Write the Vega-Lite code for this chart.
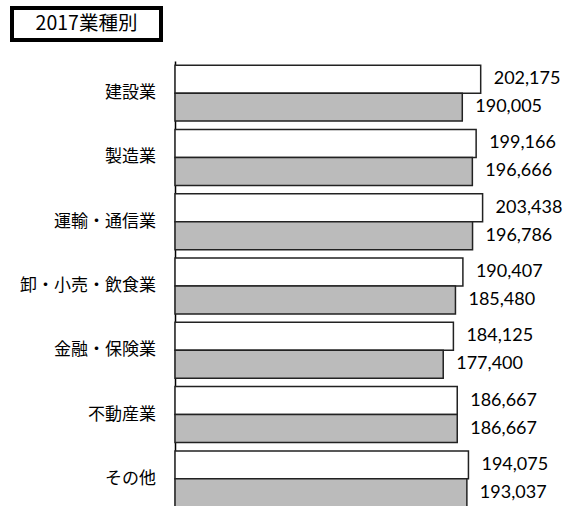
{
  "$schema": "https://vega.github.io/schema/vega-lite/v6.json",
  "padding": {"left": 10, "top": 6, "right": 0, "bottom": 0},
  "config": {"view": {"stroke": null}, "font": "Noto Sans CJK JP"},
  "datasets": {
    "pay": [
      {"cat": "建設業", "s": "s1", "v": 202175},
      {"cat": "建設業", "s": "s2", "v": 190005},
      {"cat": "製造業", "s": "s1", "v": 199166},
      {"cat": "製造業", "s": "s2", "v": 196666},
      {"cat": "運輸・通信業", "s": "s1", "v": 203438},
      {"cat": "運輸・通信業", "s": "s2", "v": 196786},
      {"cat": "卸・小売・飲食業", "s": "s1", "v": 190407},
      {"cat": "卸・小売・飲食業", "s": "s2", "v": 185480},
      {"cat": "金融・保険業", "s": "s1", "v": 184125},
      {"cat": "金融・保険業", "s": "s2", "v": 177400},
      {"cat": "不動産業", "s": "s1", "v": 186667},
      {"cat": "不動産業", "s": "s2", "v": 186667},
      {"cat": "その他", "s": "s1", "v": 194075},
      {"cat": "その他", "s": "s2", "v": 193037}
    ]
  },
  "spacing": 19,
  "vconcat": [
    {
      "width": 149,
      "height": 32,
      "view": {"stroke": "black", "strokeWidth": 4},
      "data": {"values": [{"t": "2017業種別"}]},
      "mark": {"type": "text", "font": "Noto Sans CJK JP", "fontSize": 19.5, "color": "black", "baseline": "middle", "align": "center"},
      "encoding": {"text": {"field": "t"}}
    },
    {
      "spacing": 18,
      "resolve": {"scale": {"x": "independent", "y": "independent"}},
      "hconcat": [
        {
          "width": 144,
          "height": 450,
          "data": {"name": "pay"},
          "transform": [{"filter": "datum.s === 's1'"}],
          "mark": {"type": "text", "align": "right", "baseline": "middle", "font": "Noto Sans CJK JP", "fontSize": 17, "color": "black"},
          "encoding": {
            "y": {
              "field": "cat",
              "type": "nominal",
              "sort": ["建設業", "製造業", "運輸・通信業", "卸・小売・飲食業", "金融・保険業", "不動産業", "その他"],
              "scale": {"paddingInner": 0.13, "paddingOuter": 0.065},
              "axis": null
            },
            "x": {"datum": 1, "type": "quantitative", "scale": {"domain": [0, 1]}, "axis": null},
            "text": {"field": "cat"}
          }
        },
        {
          "width": 378,
          "height": 450,
          "data": {"name": "pay"},
          "encoding": {
            "y": {
              "field": "cat",
              "type": "nominal",
              "sort": ["建設業", "製造業", "運輸・通信業", "卸・小売・飲食業", "金融・保険業", "不動産業", "その他"],
              "scale": {"paddingInner": 0.13, "paddingOuter": 0.065},
              "axis": {"title": null, "ticks": false, "labels": false, "domainColor": "black", "domainWidth": 1.5}
            },
            "yOffset": {"field": "s", "type": "nominal", "sort": ["s1", "s2"], "scale": {"paddingInner": 0, "paddingOuter": 0}},
            "x": {"field": "v", "type": "quantitative", "scale": {"domain": [0, 250000]}, "axis": null}
          },
          "layer": [
            {
              "mark": {"type": "bar", "stroke": "#222222", "strokeWidth": 1.5},
              "encoding": {
                "fill": {"field": "s", "type": "nominal", "scale": {"domain": ["s1", "s2"], "range": ["#ffffff", "#bbbbbb"]}, "legend": null}
              }
            },
            {
              "mark": {"type": "text", "align": "left", "baseline": "middle", "dx": 13, "font": "Lato", "fontSize": 18, "color": "black"},
              "encoding": {"text": {"field": "v", "type": "quantitative", "format": ","}}
            }
          ]
        }
      ]
    }
  ]
}
